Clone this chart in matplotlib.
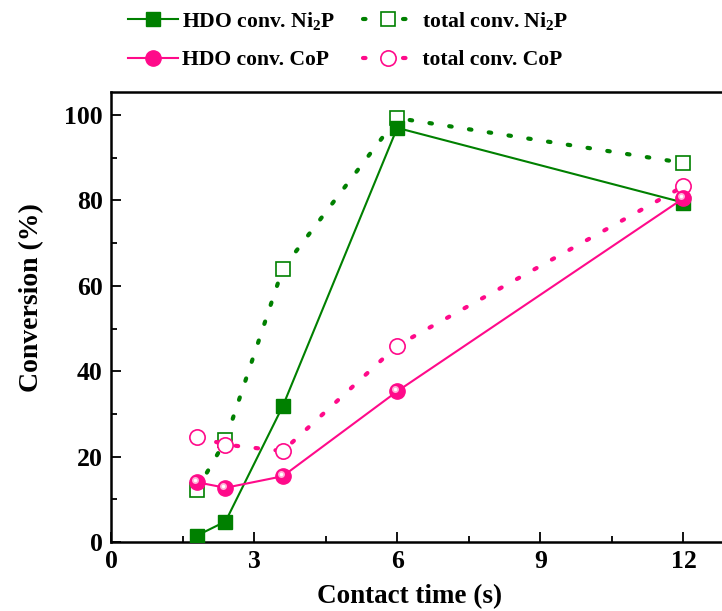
import matplotlib
matplotlib.use("Agg")
import matplotlib.pyplot as plt
import matplotlib.transforms as mtransforms
from matplotlib.ticker import MultipleLocator

plt.rcParams['font.family'] = ['Liberation Serif', 'DejaVu Serif']
plt.rcParams['font.weight'] = 'bold'
plt.rcParams['mathtext.fontset'] = 'custom'
plt.rcParams['mathtext.rm'] = 'Liberation Serif:bold'
plt.rcParams['mathtext.bf'] = 'Liberation Serif:bold'
plt.rcParams['mathtext.it'] = 'Liberation Serif:bold'

contact_time = [1.8, 2.4, 3.6, 6, 12]
hdo_ni2p = [1.5, 4.8, 31.8, 97.0, 79.5]
total_ni2p = [12.2, 23.8, 64.0, 99.3, 88.8]
hdo_cop = [14.0, 12.7, 15.4, 35.3, 80.5]
total_cop = [24.7, 22.8, 21.3, 46.0, 83.3]

x_ticks = [0, 3, 6, 9, 12]
y_ticks = [0, 20, 40, 60, 80, 100]

GREEN = '#008000'
PINK = '#FF0A8A'

fig = plt.figure(figsize=(7.22, 6.11), dpi=100)
ax = fig.add_axes([111/722, 69/611, 644/722, 450/611])

dot = (0, (0.6, 4.2))
ax.plot(contact_time, total_ni2p, linestyle=dot, dash_capstyle='round', lw=3, color=GREEN,
        marker='s', ms=9.5, mfc='white', mec=GREEN, mew=1.2, label=' total conv. Ni$_2$P', zorder=2)
ax.plot(contact_time, total_cop, linestyle=dot, dash_capstyle='round', lw=3, color=PINK,
        marker='o', ms=11, mfc='white', mec=PINK, mew=1.2, label=' total conv. CoP', zorder=2)
ax.plot(contact_time, hdo_ni2p, '-', lw=1.5, color=GREEN,
        marker='s', ms=9.5, mfc=GREEN, mec=GREEN, label='HDO conv. Ni$_2$P', zorder=3)
ax.plot(contact_time, hdo_cop, '-', lw=1.5, color=PINK,
        marker='o', ms=11, mfc=PINK, mec=PINK, label='HDO conv. CoP', zorder=4)
# sphere highlight
off = mtransforms.offset_copy(ax.transData, fig=fig, x=-1.5, y=1.5, units='points')
ax.plot(contact_time, hdo_cop, 'o', ms=5, color='#FFB0D8', mec='none', transform=off, zorder=5)
ax.plot(contact_time, hdo_cop, 'o', ms=2.5, color='white', mec='none', transform=off, zorder=6)

ax.set_xlim(0, 13.5)
ax.set_ylim(0, 105.4)
ax.set_xticks(x_ticks)
ax.set_yticks(y_ticks)
ax.xaxis.set_minor_locator(MultipleLocator(1.5))
ax.yaxis.set_minor_locator(MultipleLocator(10))
ax.tick_params(which='both', direction='in', width=1.3, labelsize=18.5, pad=6)
ax.tick_params(which='major', length=7)
ax.tick_params(which='minor', length=4)
ax.tick_params(axis='both', which='both', top=False, right=False)
for s in ax.spines.values():
    s.set_linewidth(1.8)
ax.set_xlabel('Contact time (s)', fontsize=19.5, fontweight='bold')
ax.set_ylabel('Conversion (%)', fontsize=20, fontweight='bold')
ax.xaxis.set_label_coords(0.464, -0.093)
ax.yaxis.set_label_coords(-0.104, 0.544)

h, l = ax.get_legend_handles_labels()
order = [2, 3, 0, 1]
leg = fig.legend([h[i] for i in order], [l[i] for i in order], ncol=2,
                 loc='upper left', bbox_to_anchor=(0.150, 1.016), frameon=False,
                 fontsize=15.6, handlelength=2.3, handletextpad=0.2, columnspacing=1.3,
                 labelspacing=0.85)

fig.savefig('out.png', dpi=100)
